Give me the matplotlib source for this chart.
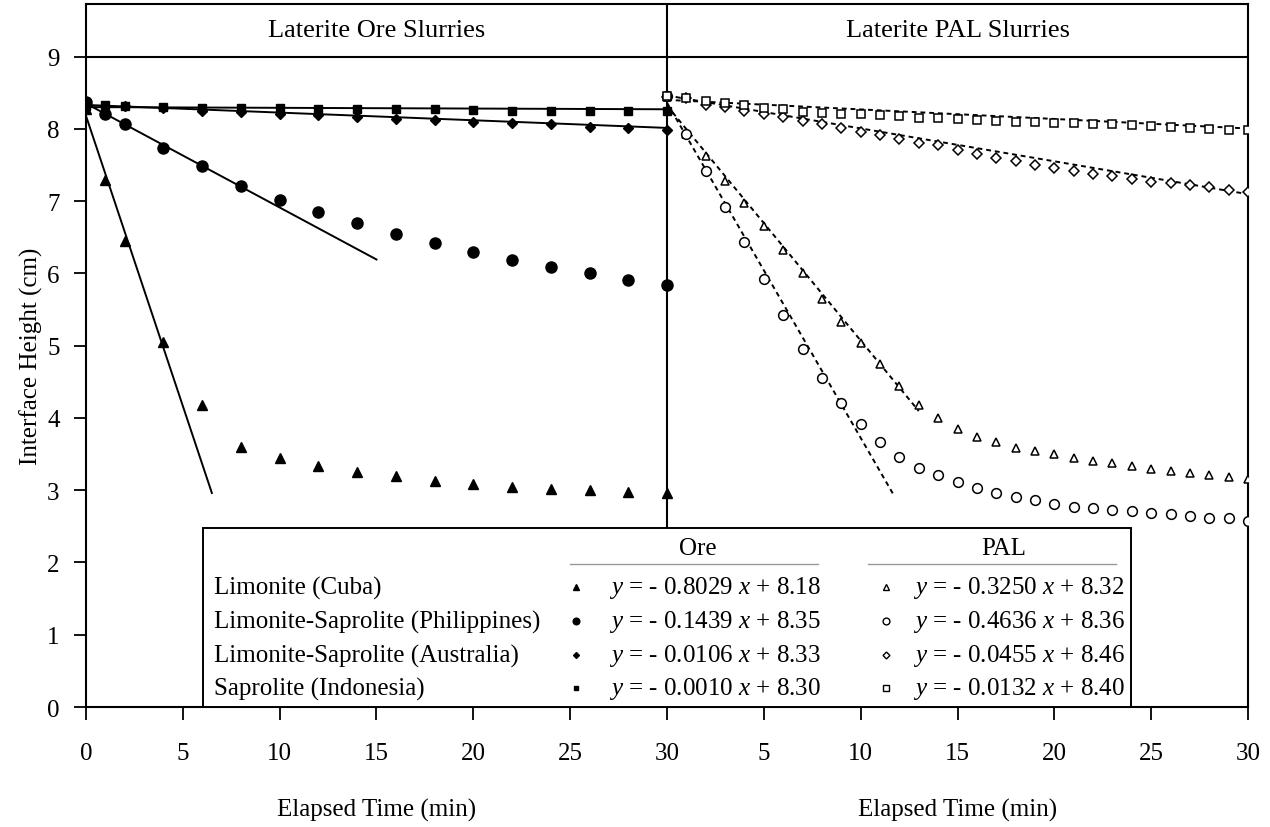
import numpy as np
import matplotlib
matplotlib.use("Agg")
import matplotlib.pyplot as plt

plt.rcParams['font.family'] = ['Liberation Serif', 'DejaVu Serif']
plt.rcParams['mathtext.fontset'] = 'custom'
plt.rcParams['mathtext.rm'] = 'Liberation Serif'
plt.rcParams['mathtext.it'] = 'Liberation Serif:italic'

# ---- datos ----
samples = ["Limonite (Cuba)", "Limonite-Saprolite (Philippines)",
           "Limonite-Saprolite (Australia)", "Saprolite (Indonesia)"]

# mineral (ore), tiempo en min
t_ore = [0, 1, 2, 4, 6, 8, 10, 12, 14, 16, 18, 20, 22, 24, 26, 28, 30]
ore_cuba = [8.28, 7.29, 6.45, 5.05, 4.18, 3.60, 3.44, 3.34, 3.25, 3.19, 3.13,
            3.08, 3.04, 3.02, 3.00, 2.98, 2.96]
ore_phil = [8.37, 8.21, 8.06, 7.74, 7.48, 7.21, 7.02, 6.85, 6.70, 6.55, 6.42,
            6.30, 6.19, 6.09, 6.00, 5.91, 5.84]
ore_aus = [8.33, 8.32, 8.31, 8.29, 8.25, 8.23, 8.21, 8.19, 8.16, 8.14, 8.12,
           8.10, 8.08, 8.06, 8.03, 8.01, 7.99]
ore_indo = [8.32, 8.33, 8.31, 8.30, 8.29, 8.29, 8.29, 8.28, 8.27, 8.27, 8.27,
            8.26, 8.25, 8.25, 8.24, 8.24, 8.24]

# PAL, tiempo en min (0..30)
t_pal = list(range(31))
pal_cuba = [8.44, 7.93, 7.62, 7.28, 6.97, 6.65, 6.32, 6.01, 5.65, 5.33, 5.04,
            4.74, 4.44, 4.18, 4.00, 3.85, 3.74, 3.66, 3.59, 3.54, 3.50, 3.45,
            3.41, 3.38, 3.33, 3.30, 3.27, 3.24, 3.21, 3.18, 3.15]
pal_phil = [8.46, 7.93, 7.42, 6.92, 6.43, 5.92, 5.42, 4.96, 4.55, 4.21, 3.91,
            3.66, 3.46, 3.31, 3.21, 3.11, 3.03, 2.96, 2.91, 2.86, 2.81, 2.77,
            2.75, 2.73, 2.71, 2.69, 2.67, 2.64, 2.62, 2.61, 2.58]
pal_aus = [8.44, 8.42, 8.33, 8.30, 8.25, 8.21, 8.16, 8.11, 8.07, 8.01, 7.96,
           7.91, 7.86, 7.81, 7.77, 7.70, 7.65, 7.60, 7.56, 7.50, 7.46, 7.41,
           7.37, 7.34, 7.31, 7.27, 7.25, 7.22, 7.19, 7.16, 7.13]
pal_indo = [8.46, 8.42, 8.38, 8.35, 8.33, 8.29, 8.27, 8.23, 8.22, 8.21, 8.20,
            8.19, 8.17, 8.15, 8.15, 8.13, 8.12, 8.11, 8.10, 8.09, 8.08, 8.08,
            8.07, 8.06, 8.05, 8.04, 8.02, 8.01, 8.00, 7.99, 7.98]

# ajustes lineales (pendiente, ordenada, fin del tramo en min)
ore_slope = [-0.8029, -0.1439, -0.0106, -0.0010]
ore_icpt = [8.18, 8.35, 8.33, 8.30]
ore_fit_end = [6.5, 15, 30, 30]
pal_slope = [-0.3250, -0.4636, -0.0455, -0.0132]
pal_icpt = [8.32, 8.36, 8.46, 8.40]
pal_fit_end = [13, 11.7, 30, 30]

x_ticks = [0, 5, 10, 15, 20, 25, 30, 35, 40, 45, 50, 55, 60]
x_ticklabels = ["0", "5", "10", "15", "20", "25", "30",
                "5", "10", "15", "20", "25", "30"]
panel_titles = ["Laterite Ore Slurries", "Laterite PAL Slurries"]

ore_data = [ore_cuba, ore_phil, ore_aus, ore_indo]
pal_data = [pal_cuba, pal_phil, pal_aus, pal_indo]
ore_mk = [("^", 7), ("o", 8), ("D", 5), ("s", 6)]
pal_mk = [("^", 6), ("o", 7), ("D", 5), ("s", 5.5)]

FS = 18
OFF = 30  # el panel PAL se dibuja desplazado 30 min

fig = plt.figure(figsize=(12.7, 8.28), dpi=100)
ax = fig.add_axes([0.0677, 0.1449, 0.915, 0.8485])

# --- panel mineral ---
for yv, (m, ms), a, b, xe in zip(ore_data, ore_mk, ore_slope, ore_icpt, ore_fit_end):
    ax.plot(t_ore, yv, ls="none", marker=m, ms=ms, color="black", zorder=4)
    xf = np.array([0, xe])
    ax.plot(xf, a * xf + b, color="black", lw=1.4, zorder=3)

# --- panel PAL ---
for yv, (m, ms), a, b, xe in zip(pal_data, pal_mk, pal_slope, pal_icpt, pal_fit_end):
    ax.plot(np.array(t_pal) + OFF, yv, ls="none", marker=m, ms=ms,
            mfc="white", mec="black", mew=1.1, zorder=4)
    xf = np.array([0, xe])
    ax.plot(xf + OFF, a * xf + b, color="black", lw=1.4,
            dashes=(2.5, 2), zorder=3)

# separadores y encabezados
ax.axvline(OFF, color="black", lw=1.5, zorder=2)
ax.axhline(9, color="black", lw=1.5, zorder=2)
for xc, title in zip([15, 45], panel_titles):
    ax.text(xc, 9.36, title, ha="center", va="center", fontsize=FS + 1)

ax.set_xlim(0, 60)
ax.set_ylim(0, 9.72)
ax.set_xticks(x_ticks)
ax.set_xticklabels(x_ticklabels)
ax.set_yticks(range(10))
ax.tick_params(direction="out", length=9, width=1.3, labelsize=FS)
ax.tick_params(axis="x", pad=16)
ax.tick_params(axis="y", pad=10)
for s in ax.spines.values():
    s.set_linewidth(1.5)

ax.set_ylabel("Interface Height (cm)", fontsize=FS, labelpad=3)
for xc in [15, 45]:
    ax.text(xc, -1.42, "Elapsed Time (min)", ha="center", va="center",
            fontsize=FS)

# --- cuadro de leyenda con ecuaciones ---
box = plt.Rectangle((6.03, 0), 47.92, 2.48, facecolor="white",
                    edgecolor="black", lw=1.4, zorder=5)
ax.add_patch(box)
ax.text(31.6, 2.2, "Ore", ha="center", va="center", fontsize=FS, zorder=6)
ax.text(47.4, 2.2, "PAL", ha="center", va="center", fontsize=FS, zorder=6)
ax.plot([25.0, 37.8], [1.98, 1.98], color="0.6", lw=1, zorder=6)
ax.plot([40.4, 53.2], [1.98, 1.98], color="0.6", lw=1, zorder=6)

row_y = [1.66, 1.19, 0.72, 0.26]
for i, name in enumerate(samples):
    yr = row_y[i]
    ax.text(6.6, yr, name, ha="left", va="center", fontsize=FS, zorder=6)
    ax.plot(25.3, yr, marker=ore_mk[i][0], ms=ore_mk[i][1] * 0.6,
            color="black", ls="none", zorder=6)
    ax.text(27.0, yr, r"$y$ = - %.4f $x$ + %.2f" % (-ore_slope[i], ore_icpt[i]),
            ha="left", va="center", fontsize=FS, zorder=6)
    ax.plot(41.3, yr, marker=pal_mk[i][0], ms=pal_mk[i][1] * 0.7,
            mfc="white", mec="black", mew=1, ls="none", zorder=6)
    ax.text(42.7, yr, r"$y$ = - %.4f $x$ + %.2f" % (-pal_slope[i], pal_icpt[i]),
            ha="left", va="center", fontsize=FS, zorder=6)

fig.savefig("out.png", dpi=100)
